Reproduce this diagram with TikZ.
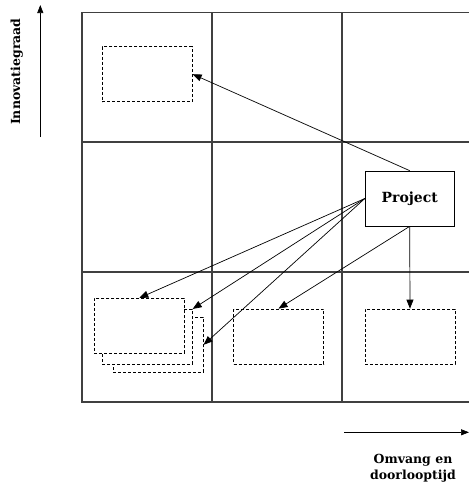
\documentclass[tikz,border=0pt]{standalone}
\usepackage{fontspec}
\setmainfont{DejaVu Serif}
\usetikzlibrary{arrows.meta, positioning, calc}
\tikzset{
    gridline/.style={draw=black!75, line width=1.4pt},
    dashbox/.style={draw, dash pattern=on 3pt off 2pt, line width=0.7pt, minimum width=90pt, minimum height=55pt, inner sep=0pt},
    projbox/.style={draw, line width=0.7pt, minimum width=89pt, minimum height=55pt, font=\fontsize{14}{16}\selectfont\bfseries},
    link/.style={-{Triangle[length=9pt, width=7pt]}, line width=0.7pt},
    axis/.style={-{Triangle[length=8pt, width=6pt]}, line width=0.7pt},
    axislabel/.style={font=\fontsize{12.5}{16.5}\selectfont\bfseries, align=center},
}

\begin{document}
\begin{tikzpicture}[x=1pt, y=-1pt]
    \useasboundingbox (0,0) rectangle (469,483);

    % 3x3 grid
    \draw[gridline] (82,12.7) rectangle (472,402);
    \draw[gridline] (212,12.7) -- (212,402);
    \draw[gridline] (342,12.7) -- (342,402);
    \draw[gridline] (82,142) -- (472,142);
    \draw[gridline] (82,272) -- (472,272);

    % axes
    \coordinate (ybase) at (40.3,137);
    \coordinate (ytip) at (40.3,5);
    \draw[axis] (ybase) -- (ytip);
    \node[axislabel, rotate=90] (ylabel) at (16.7,71.7) {Innovatiegraad};

    \coordinate (xbase) at (344,432.3);
    \coordinate (xtip) at (469,432.3);
    \draw[axis] (xbase) -- (xtip);
    \node[axislabel] (xlabel) at (413,468) {Omvang en\\doorlooptijd};

    % dashed boxes
    \node[dashbox] (topbox) at (147.3,74.2) {};
    \node[dashbox, fill=white] (stackc) at (158.2,344.8) {};
    \node[dashbox, fill=white] (stackb) at (147.3,336.8) {};
    \node[dashbox, fill=white] (stacka) at (139.3,325.8) {};
    \node[dashbox] (midbox) at (278.5,336.5) {};
    \node[dashbox] (rightbox) at (410,336.5) {};

    % project
    \node[projbox] (proj) at (409.7,198.5) {Project};

    % links
    \draw[link] (proj.north) -- (topbox.east);
    \draw[link] (proj.west) -- (stacka.north);
    \draw[link] (proj.west) -- (stackb.north east);
    \draw[link] (proj.west) -- (stackc.east);
    \draw[link] (proj.south) -- (midbox.north);
    \draw[link] (proj.south) -- (rightbox.north);
\end{tikzpicture}
\end{document}
